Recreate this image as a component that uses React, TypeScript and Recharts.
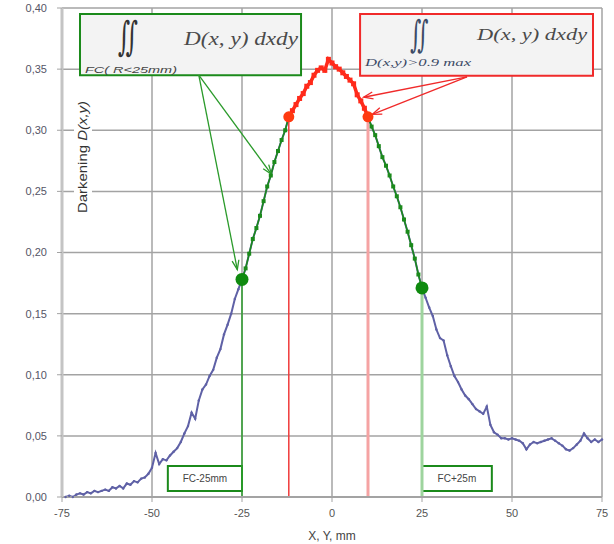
import React from "react";
import {
    LineChart,
    Line,
    XAxis,
    YAxis,
    CartesianGrid,
    ReferenceLine,
    ReferenceDot,
    ReferenceArea,
} from "recharts";

// positions along the profile, mm
const positions = [
    -74, -73, -72, -71, -70, -69, -68, -67, -66, -65, -64, -63, -62, -61, -60,
    -59, -58, -57, -56, -55, -54, -53, -52, -51, -50, -49, -48, -47, -46, -45,
    -44, -43, -42, -41, -40, -39, -38, -37, -36, -35, -34, -33, -32, -31, -30,
    -29, -28, -27, -26, -25, -24, -23, -22, -21, -20, -19, -18, -17, -16, -15,
    -14, -13, -12, -11, -10, -9, -8, -7, -6, -5, -4, -3, -2, -1, 0,
    1, 2, 3, 4, 5, 6, 7, 8, 9, 10, 11, 12, 13, 14, 15,
    16, 17, 18, 19, 20, 21, 22, 23, 24, 25, 26, 27, 28, 29, 30,
    31, 32, 33, 34, 35, 36, 37, 38, 39, 40, 41, 42, 43, 44, 45,
    46, 47, 48, 49, 50, 51, 52, 53, 54, 55, 56, 57, 58, 59, 60,
    61, 62, 63, 64, 65, 66, 67, 68, 69, 70, 71, 72, 73, 74, 75,
];

// darkening D(x,y)
const darkening = [
    0.0, 0.001, 0.0, 0.002, 0.003, 0.002, 0.004, 0.003, 0.005, 0.004, 0.005,
    0.006, 0.005, 0.008, 0.007, 0.009, 0.007, 0.011, 0.01, 0.013, 0.012, 0.015,
    0.016, 0.019, 0.024, 0.036, 0.027, 0.031, 0.03, 0.034, 0.037, 0.04, 0.045,
    0.052, 0.058, 0.069, 0.064, 0.079, 0.088, 0.092, 0.099, 0.104, 0.114,
    0.121, 0.133, 0.141, 0.15, 0.162, 0.17, 0.178, 0.187, 0.199, 0.211, 0.22,
    0.23, 0.242, 0.254, 0.263, 0.274, 0.283, 0.292, 0.3, 0.311, 0.316, 0.321,
    0.326, 0.33, 0.336, 0.339, 0.345, 0.349, 0.351, 0.349, 0.358, 0.355,
    0.352, 0.35, 0.347, 0.344, 0.341, 0.338, 0.329, 0.324, 0.318, 0.311, 0.303,
    0.296, 0.287, 0.278, 0.271, 0.263, 0.254, 0.246, 0.237, 0.227, 0.217,
    0.206, 0.195, 0.182, 0.171, 0.163, 0.155, 0.148, 0.137, 0.13, 0.128, 0.116,
    0.107, 0.099, 0.094, 0.088, 0.083, 0.08, 0.076, 0.072, 0.07, 0.068, 0.074,
    0.059, 0.053, 0.051, 0.048, 0.048, 0.047, 0.048, 0.047, 0.046, 0.044,
    0.039, 0.043, 0.045, 0.044, 0.045, 0.046, 0.047, 0.048, 0.046, 0.044,
    0.042, 0.039, 0.038, 0.04, 0.043, 0.046, 0.052, 0.048, 0.045, 0.047, 0.045,
    0.047,
];

const xTicks = [-75, -50, -25, 0, 25, 50, 75];
const yTicks = [0, 0.05, 0.1, 0.15, 0.2, 0.25, 0.3, 0.35, 0.4];

// FC +/- 25 mm and the 0.9*max limits
const fcLimits = [-25, 25];
const maxLimits = [-12, 10];

const BLUE = "#5f61a6";
const GREEN = "#1b8a1b";
const RED = "#ff2a1a";
const FONT = "'Liberation Sans', Arial, sans-serif";
const SERIF = "'Liberation Serif', 'DejaVu Serif', serif";

const valueAt = (x: number) => darkening[positions.indexOf(x)];

const data = positions.map((x, i) => {
    const v = darkening[i];
    const inFc =
        (x >= fcLimits[0] && x <= maxLimits[0]) ||
        (x >= maxLimits[1] && x <= fcLimits[1]);
    const inMax = x >= maxLimits[0] && x <= maxLimits[1];
    return { x, blue: v, green: inFc ? v : null, red: inMax ? v : null };
});

const fmt = (v: number) => v.toFixed(2).replace(".", ",");

const squareDot = (color: string, s: number) => (p: any) => {
    if (p.value == null || p.cx == null) return <g key={p.key} />;
    return (
        <rect
            key={p.key}
            x={p.cx - s / 2}
            y={p.cy - s / 2}
            width={s}
            height={s}
            fill={color}
        />
    );
};

const arrow = (color: string) => (p: any) => {
    const { x1, y1, x2, y2 } = p;
    const a = Math.atan2(y2 - y1, x2 - x1);
    const h = 10;
    const w = 0.35;
    const ax = x2 - h * Math.cos(a - w);
    const ay = y2 - h * Math.sin(a - w);
    const bx = x2 - h * Math.cos(a + w);
    const by = y2 - h * Math.sin(a + w);
    return (
        <g>
            <line x1={x1} y1={y1} x2={x2} y2={y2} stroke={color} strokeWidth={1.3} />
            <polyline
                points={`${ax},${ay} ${x2},${y2} ${bx},${by}`}
                fill="none"
                stroke={color}
                strokeWidth={1.3}
            />
        </g>
    );
};

// tall double integral sign
const integral = (cx: number, cy: number, size: number, color: string) => (
    <text
        transform={`translate(${cx} ${cy}) scale(0.9 1.55)`}
        x={0}
        y={0}
        fontFamily="'DejaVu Serif', serif"
        fontSize={size}
        fill={color}
        textAnchor="middle"
        dominantBaseline="central"
    >
        ∬
    </text>
);

const fcBoxLabel = (p: any) => {
    const { x, y } = p.viewBox;
    return (
        <g>
            {integral(x + 48, y + 22, 26, "#333")}
            <text
                x={x + 104}
                y={y + 24}
                fontFamily={SERIF}
                fontStyle="italic"
                fontSize={19}
                fill="#4a4a4a"
                dominantBaseline="central"
                textLength={114}
                lengthAdjust="spacingAndGlyphs"
            >
                D(x, y) dxdy
            </text>
            <text
                x={x + 5}
                y={y + 56}
                fontFamily={FONT}
                fontStyle="italic"
                fontSize={9}
                fill="#444"
                dominantBaseline="central"
                textLength={92}
                lengthAdjust="spacingAndGlyphs"
            >
                FC( R&lt;25mm)
            </text>
        </g>
    );
};

const maxBoxLabel = (p: any) => {
    const { x, y } = p.viewBox;
    return (
        <g>
            {integral(x + 59, y + 20, 24, "#3c4a66")}
            <text
                x={x + 117}
                y={y + 20}
                fontFamily={SERIF}
                fontStyle="italic"
                fontSize={17}
                fill="#4a4a4a"
                dominantBaseline="central"
                textLength={110}
                lengthAdjust="spacingAndGlyphs"
            >
                D(x, y) dxdy
            </text>
            <text
                x={x + 5}
                y={y + 48}
                fontFamily={SERIF}
                fontStyle="italic"
                fontSize={10}
                fill="#3c4a66"
                dominantBaseline="central"
                textLength={106}
                lengthAdjust="spacingAndGlyphs"
            >
                D(x,y)&gt;0.9 max
            </text>
        </g>
    );
};

const yLabel = (p: any) => {
    const { x, y, width } = p.viewBox;
    const cx = x + width + 21;
    const cy = y + 149;
    return (
        <g>
            <rect x={cx - 9} y={cy - 62} width={18} height={124} fill="#fff" />
            <text
                x={cx}
                y={cy}
                transform={`rotate(-90 ${cx} ${cy})`}
                textAnchor="middle"
                dominantBaseline="central"
                fontFamily={FONT}
                fontSize={12.5}
                fill="#333"
                textLength={112}
                lengthAdjust="spacingAndGlyphs"
            >
                Darkening <tspan fontStyle="italic">D(x,y)</tspan>
            </text>
        </g>
    );
};

export default function App() {
    return (
        <div
            style={{
                position: "absolute",
                left: 0,
                top: 0,
                width: 614,
                height: 544,
                background: "#fff",
            }}
        >
            <LineChart
                width={614}
                height={544}
                data={data}
                margin={{ top: 8, right: 12, bottom: 0, left: 0 }}
            >
                <CartesianGrid stroke="#a3a3a3" strokeWidth={1.5} />
                <XAxis
                    dataKey="x"
                    type="number"
                    domain={[-75, 75]}
                    ticks={xTicks}
                    height={47}
                    axisLine={{ stroke: "#a3a3a3", strokeWidth: 2 }}
                    tickLine={{ stroke: "#a3a3a3" }}
                    tickSize={5}
                    tickMargin={7}
                    tick={{ fontSize: 11, fill: "#555", fontFamily: FONT }}
                    label={{
                        value: "X, Y, mm",
                        position: "insideBottom",
                        offset: 4,
                        fontSize: 12,
                        fill: "#444",
                        fontFamily: FONT,
                    }}
                />
                <YAxis
                    type="number"
                    domain={[0, 0.4]}
                    ticks={yTicks}
                    width={62}
                    tickFormatter={fmt}
                    axisLine={{ stroke: "#c4c4c4", strokeWidth: 3 }}
                    tickLine={{ stroke: "#a3a3a3" }}
                    tickSize={5}
                    tickMargin={10}
                    tick={{ fontSize: 11, fill: "#556", fontFamily: FONT }}
                    label={{ content: yLabel }}
                />

                <ReferenceLine
                    segment={[
                        { x: fcLimits[0], y: 0 },
                        { x: fcLimits[0], y: valueAt(fcLimits[0]) },
                    ]}
                    stroke="#2e9e2e"
                    strokeWidth={1.5}
                />
                <ReferenceLine
                    segment={[
                        { x: maxLimits[0], y: 0 },
                        { x: maxLimits[0], y: valueAt(maxLimits[0]) },
                    ]}
                    stroke="#f03a3a"
                    strokeWidth={1.5}
                />
                <ReferenceLine
                    segment={[
                        { x: maxLimits[1], y: 0 },
                        { x: maxLimits[1], y: valueAt(maxLimits[1]) },
                    ]}
                    stroke="#f5a3a3"
                    strokeWidth={3}
                />
                <ReferenceLine
                    segment={[
                        { x: fcLimits[1], y: 0 },
                        { x: fcLimits[1], y: valueAt(fcLimits[1]) },
                    ]}
                    stroke="#9ed49e"
                    strokeWidth={3}
                />

                <ReferenceArea
                    x1={-45.6}
                    x2={fcLimits[0]}
                    y1={0.005}
                    y2={0.0254}
                    fill="#fff"
                    fillOpacity={1}
                    stroke={GREEN}
                    strokeWidth={2}
                    label={{
                        value: "FC-25mm",
                        position: "center",
                        fontSize: 10,
                        fill: "#444",
                        fontFamily: FONT,
                    }}
                />
                <ReferenceArea
                    x1={fcLimits[1]}
                    x2={44.4}
                    y1={0.005}
                    y2={0.0254}
                    fill="#fff"
                    fillOpacity={1}
                    stroke={GREEN}
                    strokeWidth={2}
                    label={{
                        value: "FC+25m",
                        position: "center",
                        fontSize: 10,
                        fill: "#444",
                        fontFamily: FONT,
                    }}
                />

                <Line
                    dataKey="blue"
                    stroke={BLUE}
                    strokeWidth={2}
                    dot={{ r: 1.2, fill: BLUE, stroke: "none" }}
                    isAnimationActive={false}
                />
                <Line
                    dataKey="green"
                    stroke={GREEN}
                    strokeWidth={1.6}
                    dot={squareDot(GREEN, 4)}
                    isAnimationActive={false}
                />
                <Line
                    dataKey="red"
                    stroke={RED}
                    strokeWidth={3.5}
                    dot={squareDot(RED, 5)}
                    isAnimationActive={false}
                />

                <ReferenceDot
                    x={fcLimits[0]}
                    y={valueAt(fcLimits[0])}
                    r={6.5}
                    fill="#0f8a0f"
                    stroke="none"
                />
                <ReferenceDot
                    x={fcLimits[1]}
                    y={valueAt(fcLimits[1])}
                    r={6.5}
                    fill="#0f8a0f"
                    stroke="none"
                />
                <ReferenceDot
                    x={maxLimits[0]}
                    y={valueAt(maxLimits[0])}
                    r={5.5}
                    fill="#ff3a10"
                    stroke="none"
                />
                <ReferenceDot
                    x={maxLimits[1]}
                    y={valueAt(maxLimits[1])}
                    r={5.5}
                    fill="#ff3a10"
                    stroke="none"
                />

                <ReferenceArea
                    x1={-70}
                    x2={-8.6}
                    y1={0.345}
                    y2={0.395}
                    fill="#f3f3f3"
                    fillOpacity={1}
                    stroke={GREEN}
                    strokeWidth={2}
                    label={{ content: fcBoxLabel }}
                />
                <ReferenceArea
                    x1={7.8}
                    x2={72.5}
                    y1={0.3445}
                    y2={0.395}
                    fill="#f3f3f3"
                    fillOpacity={1}
                    stroke="#f02a2a"
                    strokeWidth={2}
                    label={{ content: maxBoxLabel }}
                />

                <ReferenceLine
                    segment={[
                        { x: -37, y: 0.345 },
                        { x: -26.3, y: 0.186 },
                    ]}
                    shape={arrow("#2a9a2a")}
                />
                <ReferenceLine
                    segment={[
                        { x: -37, y: 0.345 },
                        { x: -16.8, y: 0.264 },
                    ]}
                    shape={arrow("#2a9a2a")}
                />
                <ReferenceLine
                    segment={[
                        { x: 37.5, y: 0.3436 },
                        { x: 8.8, y: 0.327 },
                    ]}
                    shape={arrow("#f02a2a")}
                />
                <ReferenceLine
                    segment={[
                        { x: 37.5, y: 0.3436 },
                        { x: 11.2, y: 0.313 },
                    ]}
                    shape={arrow("#f02a2a")}
                />
            </LineChart>
        </div>
    );
}
